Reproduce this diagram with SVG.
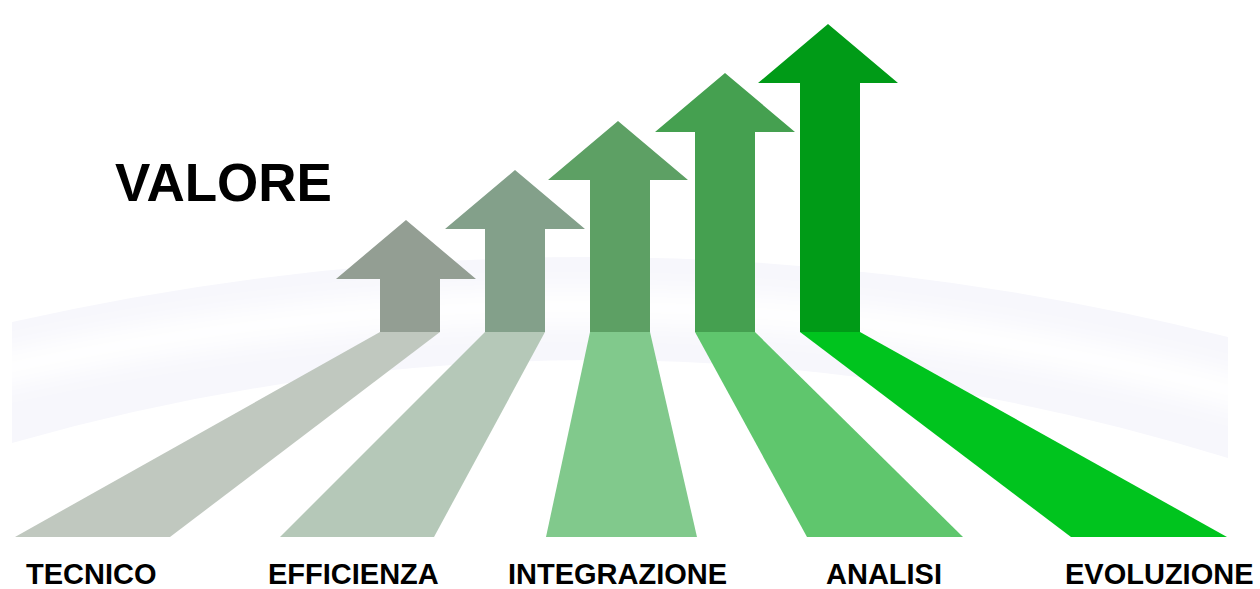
<svg xmlns="http://www.w3.org/2000/svg" width="1260" height="589" viewBox="0 0 1260 589">
  <defs>
    <filter id="soft" x="-10%" y="-50%" width="120%" height="200%">
      <feGaussianBlur stdDeviation="12"/>
    </filter>
    <clipPath id="bandClip">
      <path d="M12,322 Q620,185 1228,337 L1228,458 Q620,270 12,443 Z"/>
    </clipPath>
  </defs>
  <style>
    .lbl { font-family: "Liberation Sans", Arial, sans-serif; font-weight: bold; font-size: 29px; fill: #000; }
    .title { font-family: "Liberation Sans", Arial, sans-serif; font-weight: bold; font-size: 53px; fill: #000; }
  </style>
  <rect width="1260" height="589" fill="#ffffff"/>
  <g id="band">
    <path d="M12,322 Q620,185 1228,337 L1228,458 Q620,270 12,443 Z" fill="#f7f7fc"/>
    <g clip-path="url(#bandClip)">
      <path d="M-20,374 Q620,228 1260,398" fill="none" stroke="#ffffff" stroke-width="34" filter="url(#soft)"/>
    </g>
  </g>
  <g id="connectors">
    <polygon id="strip1" points="380,332 440,332 170,537 15,537" fill="#c0c8bf"/>
    <polygon id="strip2" points="485,332 545,332 434,537 280,537" fill="#b5c8b8"/>
    <polygon id="strip3" points="590,332 650,332 697,537 546,537" fill="#81c98c"/>
    <polygon id="strip4" points="695,332 755,332 963,537 807,537" fill="#5fc66d"/>
    <polygon id="strip5" points="800,332 860,332 1227,537 1071,537" fill="#00c41e"/>
  </g>
  <g id="arrow-tecnico">
    <polygon points="406,220 476,279 440,279 440,332 380,332 380,279 336,279" fill="#939e93"/>
    <text class="lbl" x="26" y="584">TECNICO</text>
  </g>
  <g id="arrow-efficienza">
    <polygon points="515,170 585,229 545,229 545,332 485,332 485,229 445,229" fill="#83a08a"/>
    <text class="lbl" x="268" y="584">EFFICIENZA</text>
  </g>
  <g id="arrow-integrazione">
    <polygon points="618,121 688,180 650,180 650,332 590,332 590,180 548,180" fill="#5da064"/>
    <text class="lbl" x="508" y="584">INTEGRAZIONE</text>
  </g>
  <g id="arrow-analisi">
    <polygon points="725,73 795,132 755,132 755,332 695,332 695,132 655,132" fill="#45a050"/>
    <text class="lbl" x="826" y="584">ANALISI</text>
  </g>
  <g id="arrow-evoluzione">
    <polygon points="828,24 898,83 860,83 860,332 800,332 800,83 758,83" fill="#009b17"/>
    <text class="lbl" x="1065" y="584">EVOLUZIONE</text>
  </g>
  <g id="title">
    <text class="title" x="115" y="201">VALORE</text>
  </g>
</svg>
